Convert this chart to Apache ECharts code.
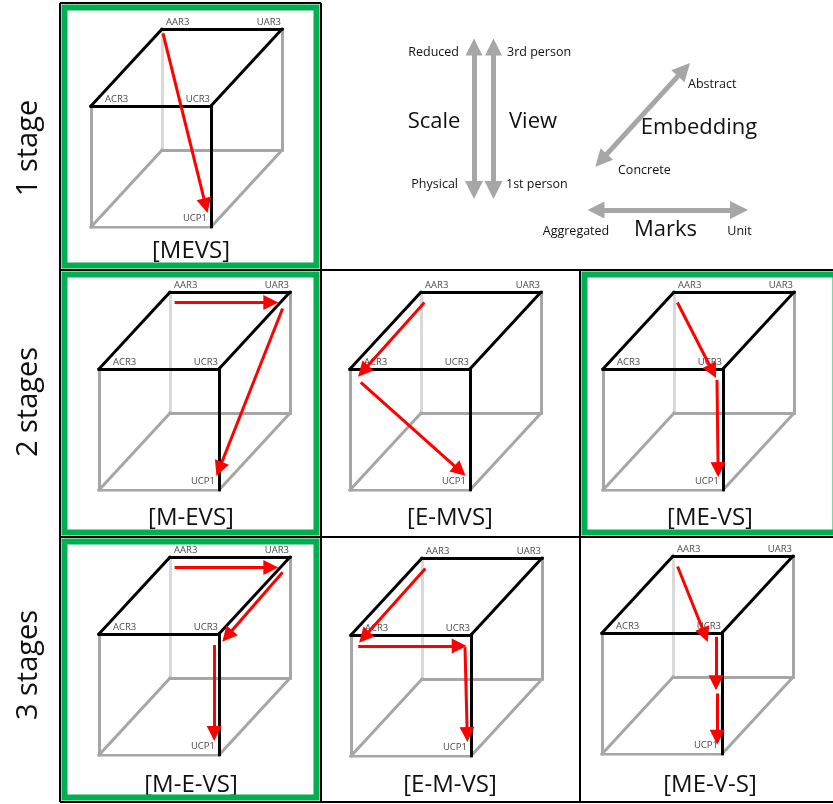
<!DOCTYPE html>
<html><head><meta charset="utf-8">
<script src="https://cdn.jsdelivr.net/npm/echarts@6/dist/echarts.min.js"></script>
<style>html,body{margin:0;padding:0;background:#fff}#c{width:833px;height:804px}</style>
</head><body><div id="c"></div>
<script>
// ---- data ----
// cube vertices in cube units (front face = unit square, back face shifted by depth)
const vertexNames = ['fbl', 'UCP1', 'ACR3', 'UCR3', 'bbl', 'bbr', 'AAR3', 'UAR3'];
const vertexX = [0, 1, 0, 1, 0.592, 1.592, 0.592, 1.592];
const vertexY = [0, 0, 1, 1, 0.636, 0.636, 1.636, 1.636];
const hiddenEdges = [['AAR3', 'bbl']];
const grayEdges = [['bbl', 'bbr'], ['fbl', 'bbl'], ['ACR3', 'fbl'], ['fbl', 'UCP1'], ['UAR3', 'bbr'], ['UCP1', 'bbr']];
const blackEdges = [['ACR3', 'UCR3'], ['ACR3', 'AAR3'], ['AAR3', 'UAR3'], ['UAR3', 'UCR3'], ['UCR3', 'UCP1']];
const labelledVertices = ['AAR3', 'UAR3', 'ACR3', 'UCR3', 'UCP1'];

const panelNames = ['[MEVS]', '[M-EVS]', '[E-MVS]', '[ME-VS]', '[M-E-VS]', '[E-M-VS]', '[ME-V-S]'];
const panelRow = [0, 1, 1, 1, 2, 2, 2];
const panelCol = [0, 0, 1, 2, 0, 1, 2];
const panelGreen = [true, true, false, true, true, false, false];
// arrows per panel: [x1, y1, xTip, yTip] in cube units
const arrowsP1 = [[0.60, 1.60, 0.97, 0.12]];
const arrowsP2 = [[0.63, 1.55, 1.49, 1.55], [1.53, 1.50, 0.98, 0.12]];
const arrowsP3 = [[0.62, 1.55, 0.07, 0.94], [0.09, 0.89, 0.96, 0.12]];
const arrowsP4 = [[0.62, 1.55, 0.94, 0.93], [0.95, 0.91, 0.96, 0.11]];
const arrowsP5 = [[0.63, 1.55, 1.49, 1.55], [1.53, 1.51, 1.03, 0.94], [0.96, 0.91, 0.96, 0.12]];
const arrowsP6 = [[0.62, 1.55, 0.07, 0.94], [0.06, 0.91, 0.96, 0.91], [0.95, 0.90, 0.97, 0.12]];
const arrowsP7 = [[0.63, 1.55, 0.88, 0.93], [0.95, 0.97, 0.95, 0.53], [0.96, 0.50, 0.96, 0.08]];
const panelArrows = [arrowsP1, arrowsP2, arrowsP3, arrowsP4, arrowsP5, arrowsP6, arrowsP7];

const rowLabels = ['1 stage', '2 stages', '3 stages'];

// legend (key) double arrows: [x1, y1, x2, y2] tips in key-area pixels
const keyArrows = [[152, 38, 152, 199], [171.5, 38, 171.5, 199], [273, 167, 368, 63], [265, 210, 426, 210]];
const keySmallTexts = ['Reduced', '3rd person', 'Physical', '1st person', 'Abstract', 'Concrete', 'Aggregated', 'Unit'];
const keyBigTexts = ['Scale', 'View', 'Embedding', 'Marks'];

// ---- layout / style ----
const FONT = '"Open Sans", "Liberation Sans", sans-serif';
const panelOriginX = [91, 99, 350, 603, 99, 351, 602];
const panelOriginY = [227, 490, 490, 490, 755, 756, 754];
const UNIT_X = 120, UNIT_Y = 121;
const XMAX = 1.592, YMAX = 1.636;
const colBounds = [[60, 321], [321, 580], [580, 840]];
const rowBounds = [[3, 270], [270, 537], [537, 802]];
const colCenters = [191, 450, 710];
const labelStyle = {
  AAR3: {align: 'left', pos: [4, -7]},
  UAR3: {align: 'right', pos: [-1, -7]},
  ACR3: {align: 'left', pos: [14, -7]},
  UCR3: {align: 'right', pos: [-1, -7]},
  UCP1: {align: 'right', pos: [-4, -9]}
};
const keySmallPos = [[459, 52, 'right'], [507, 52, 'left'], [458, 184, 'right'], [506, 184, 'left'],
  [688, 84, 'left'], [618, 170, 'left'], [576, 231, 'center'], [739.5, 231, 'center']];
const keyBigPos = [[434, 122], [533, 122], [699, 128], [665.5, 230]];

function vtx(name) { const i = vertexNames.indexOf(name); return [vertexX[i], vertexY[i]]; }
// move both ends inward by d pixels (arrowhead symbols are centred on the line ends)
function inset(a, sx, sy, dFrom, dTo) {
  const px = (a[2] - a[0]) * sx, py = (a[3] - a[1]) * sy;
  const L = Math.sqrt(px * px + py * py);
  const ux = px / L / sx, uy = py / L / sy;
  return [[a[0] + ux * dFrom, a[1] + uy * dFrom], [a[2] - ux * dTo, a[3] - uy * dTo]];
}

const grids = [], xAxes = [], yAxes = [], series = [], graphics = [];

panelNames.forEach((name, p) => {
  grids.push({left: panelOriginX[p], top: panelOriginY[p] - YMAX * UNIT_Y, width: XMAX * UNIT_X, height: YMAX * UNIT_Y});
  xAxes.push({gridIndex: p, type: 'value', min: 0, max: XMAX, show: false});
  yAxes.push({gridIndex: p, type: 'value', min: 0, max: YMAX, show: false});
  const edgeData = [];
  hiddenEdges.forEach(e => edgeData.push({coords: [vtx(e[0]), vtx(e[1])], lineStyle: {color: '#d9d9d9'}}));
  grayEdges.forEach(e => edgeData.push({coords: [vtx(e[0]), vtx(e[1])], lineStyle: {color: '#a6a6a6'}}));
  blackEdges.forEach(e => edgeData.push({coords: [vtx(e[0]), vtx(e[1])], lineStyle: {color: '#000000'}}));
  series.push({
    type: 'lines', coordinateSystem: 'cartesian2d', xAxisIndex: p, yAxisIndex: p,
    symbol: ['none', 'none'], silent: true, z: 2,
    lineStyle: {width: 3, opacity: 1, cap: 'square'},
    data: edgeData
  });
  series.push({
    type: 'lines', coordinateSystem: 'cartesian2d', xAxisIndex: p, yAxisIndex: p,
    symbol: ['none', 'triangle'], symbolSize: [12, 15], silent: true, z: 4,
    lineStyle: {width: 3, opacity: 1, color: '#ff0000'},
    itemStyle: {color: '#ff0000'},
    data: panelArrows[p].map(a => ({coords: inset(a, UNIT_X, UNIT_Y, 0, 7)}))
  });
  series.push({
    type: 'scatter', xAxisIndex: p, yAxisIndex: p, symbolSize: 0, silent: true, z: 3,
    itemStyle: {color: 'rgba(0,0,0,0)'},
    data: labelledVertices.map(n => ({
      value: vtx(n), name: n,
      label: {show: true, formatter: n, position: labelStyle[n].pos, align: labelStyle[n].align,
        verticalAlign: 'middle', fontSize: 9.5, fontFamily: FONT, color: '#111'}
    }))
  });
  // panel title
  graphics.push({type: 'text', silent: true, style: {text: name, x: colCenters[panelCol[p]], y: rowBounds[panelRow[p]][0] + 248,
    align: 'center', verticalAlign: 'middle', font: '24px ' + FONT, fill: '#111'}});
  if (panelGreen[p]) {
    const c = colBounds[panelCol[p]], r = rowBounds[panelRow[p]];
    graphics.push({type: 'rect', silent: true, shape: {x: c[0] + 4.5, y: r[0] + 4.5, width: c[1] - c[0] - 9, height: r[1] - r[0] - 9},
      style: {fill: 'none', stroke: '#00b050', lineWidth: 6}});
  }
});

// key area
const K = panelNames.length;
grids.push({left: 322, top: 0, width: 511, height: 270});
xAxes.push({gridIndex: K, type: 'value', min: 0, max: 511, show: false});
yAxes.push({gridIndex: K, type: 'value', min: 0, max: 270, inverse: true, show: false});
series.push({
  type: 'lines', coordinateSystem: 'cartesian2d', xAxisIndex: K, yAxisIndex: K,
  symbol: ['triangle', 'triangle'], symbolSize: [17, 18], silent: true,
  lineStyle: {width: 5, opacity: 1, color: '#a6a6a6'}, itemStyle: {color: '#a6a6a6'},
  data: keyArrows.map(a => ({coords: inset(a, 1, 1, 9, 9)}))
});
keySmallTexts.forEach((t, i) => graphics.push({type: 'text', silent: true, style: {text: t, x: keySmallPos[i][0], y: keySmallPos[i][1],
  align: keySmallPos[i][2], verticalAlign: 'middle', font: '12.5px ' + FONT, fill: '#111'}}));
keyBigTexts.forEach((t, i) => graphics.push({type: 'text', silent: true, style: {text: t, x: keyBigPos[i][0], y: keyBigPos[i][1],
  align: 'center', verticalAlign: 'middle', font: '22px ' + FONT, fill: '#111'}}));

// row labels
const rowLabelY = [148, 402, 665];
rowLabels.forEach((t, i) => graphics.push({type: 'text', silent: true, x: 29, y: rowLabelY[i], rotation: Math.PI / 2,
  style: {text: t, x: 0, y: 0, align: 'center', verticalAlign: 'middle', font: '29px ' + FONT, fill: '#111'}}));

// grid lines between panels
const borderLines = [[60, 3, 321, 3], [60, 3, 60, 802], [321, 3, 321, 802], [580, 270, 580, 802],
  [60, 270, 833, 270], [60, 537, 833, 537], [60, 802, 833, 802]];
borderLines.forEach(b => graphics.push({type: 'line', silent: true, shape: {x1: b[0], y1: b[1], x2: b[2], y2: b[3]},
  style: {stroke: '#000', lineWidth: 2}}));

const chart = echarts.init(document.getElementById('c'), null, {renderer: 'canvas'});
chart.setOption({
  animation: false,
  backgroundColor: '#ffffff',
  grid: grids, xAxis: xAxes, yAxis: yAxes,
  series: series,
  graphic: {elements: graphics}
});
</script></body></html>
